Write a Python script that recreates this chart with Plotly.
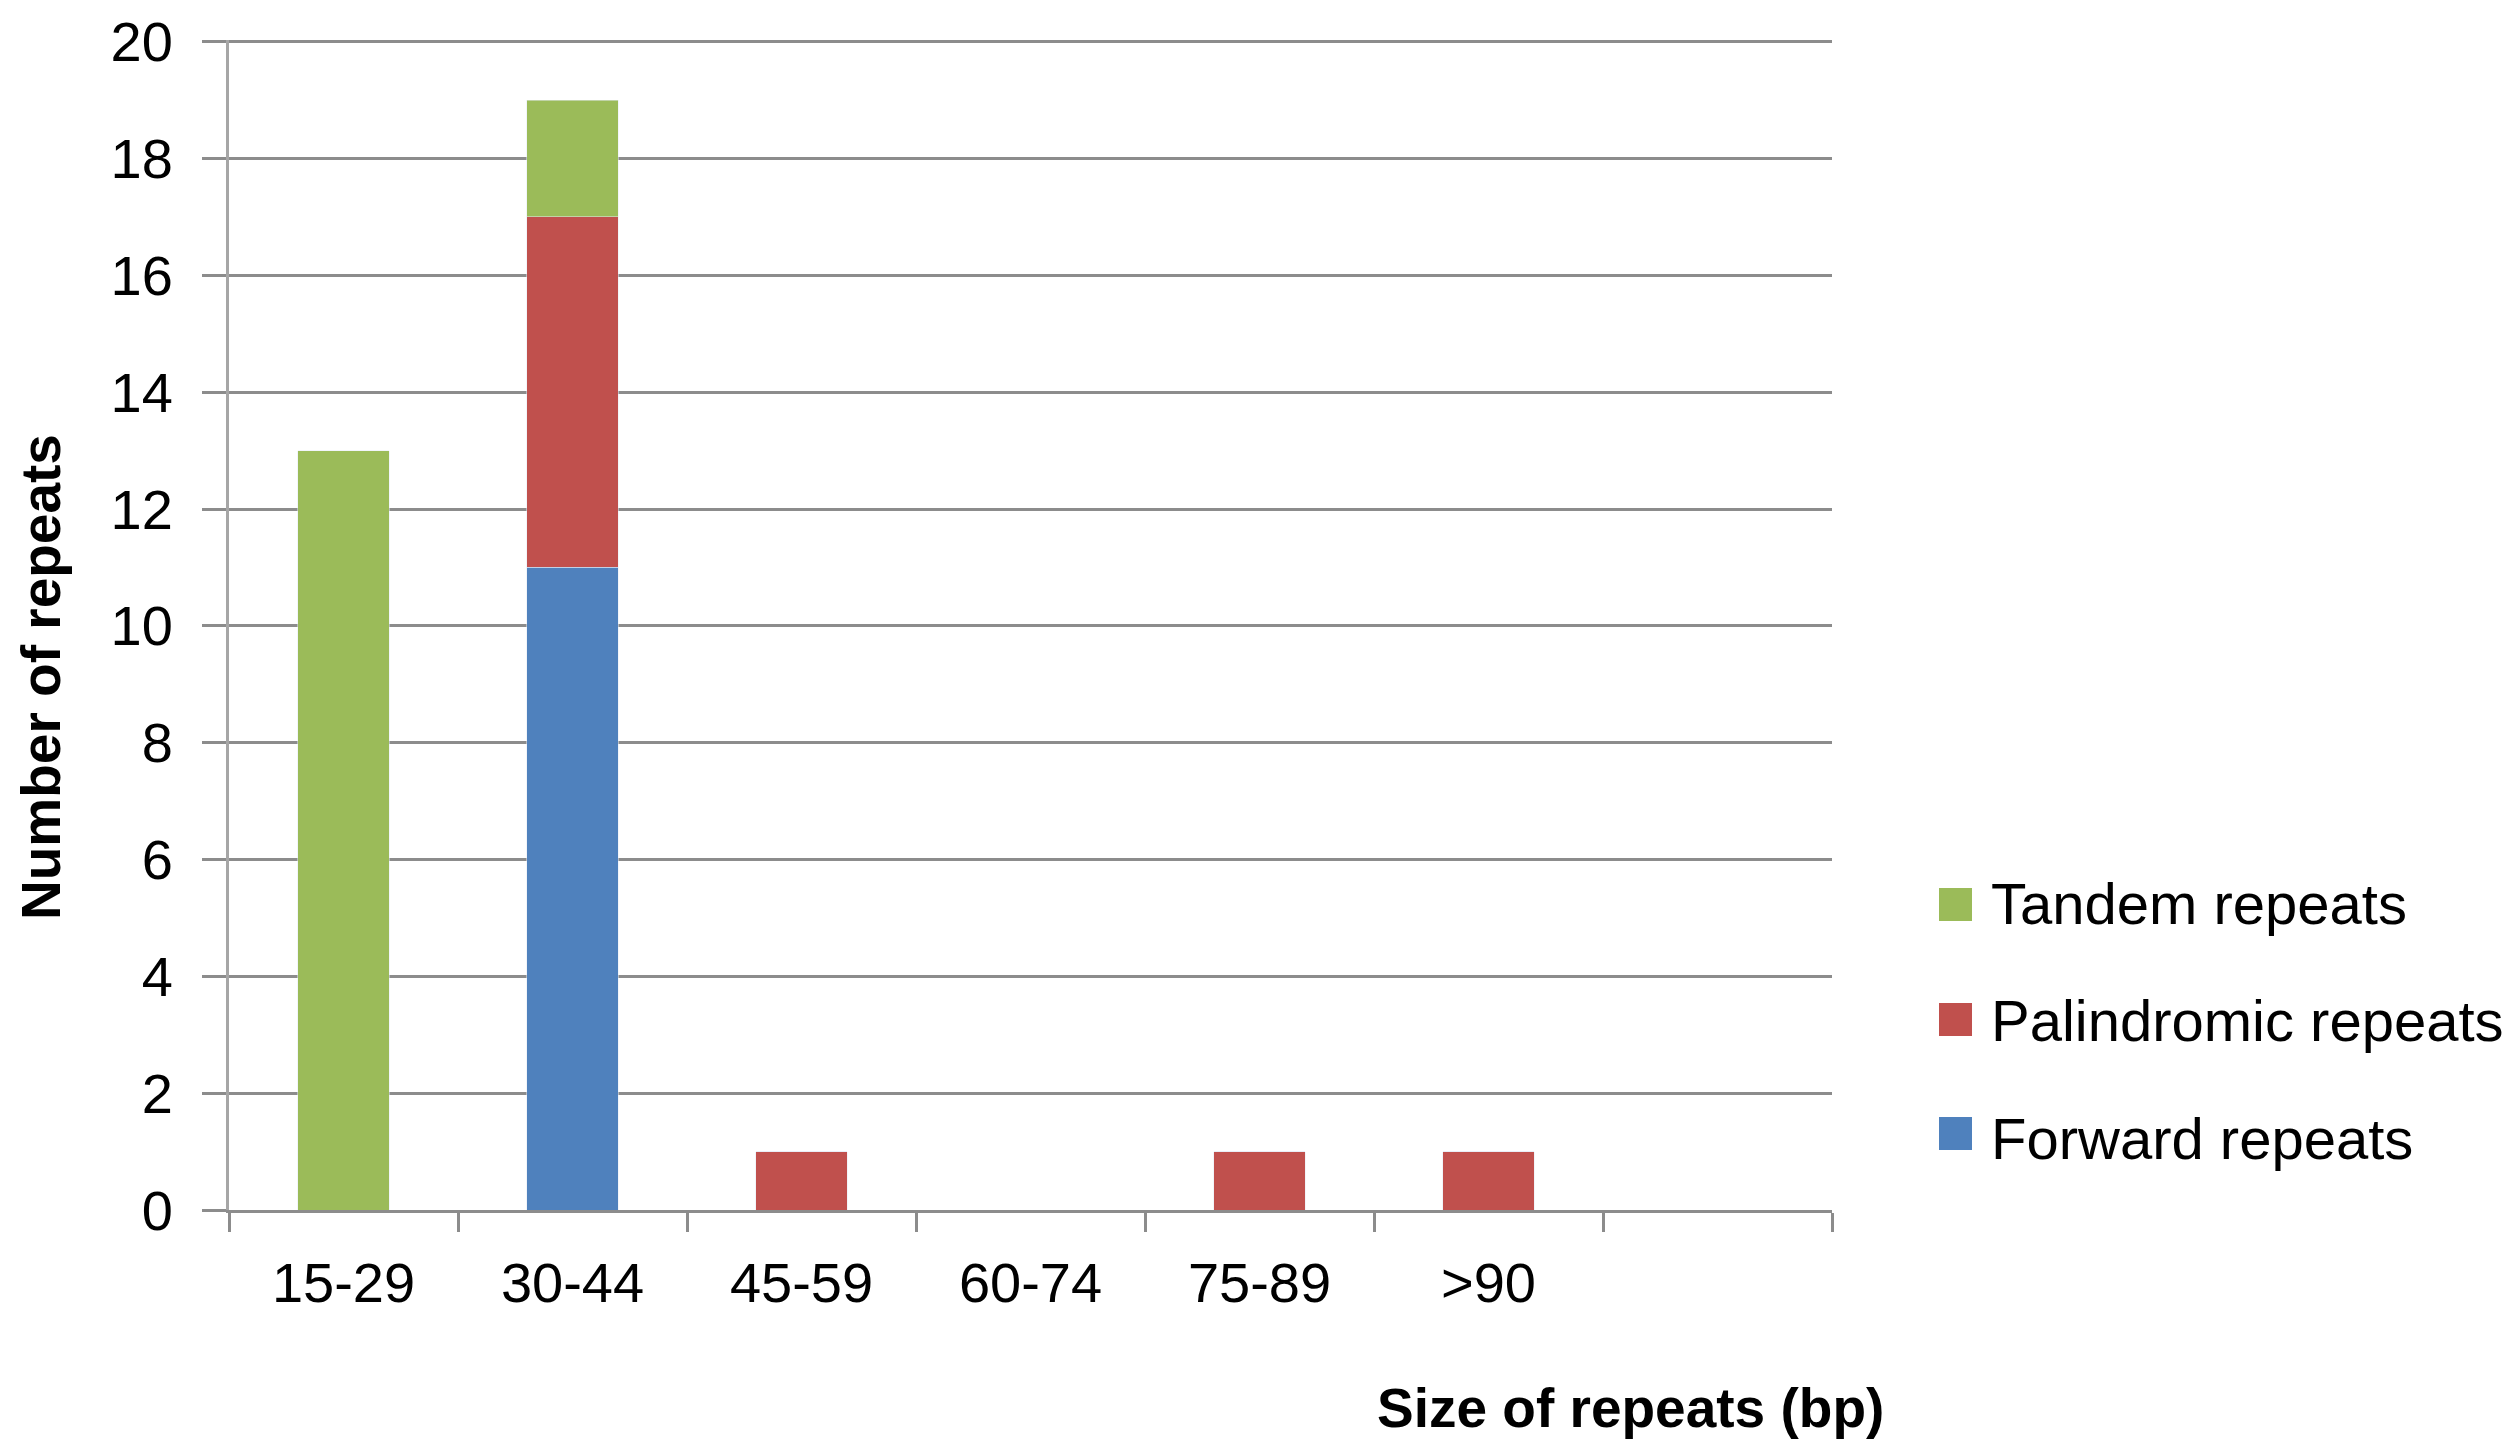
import plotly.graph_objects as go

categories = ["15-29", "30-44", "45-59", "60-74", "75-89", ">90", " "]
forward = [0, 11, 0, 0, 0, 0, 0]
palindromic = [0, 6, 1, 0, 1, 1, 0]
tandem = [13, 2, 0, 0, 0, 0, 0]

series = [("Forward repeats", forward, "#4F81BD"),
          ("Palindromic repeats", palindromic, "#C0504D"),
          ("Tandem repeats", tandem, "#9BBB59")]

FONT = "Liberation Sans"
L, T, R, B = 221, 32, 686, 251
W, H = 2510, 1453
PW, PH = W - L - R, H - T - B

fig = go.Figure()
for name, vals, col in series:
    fig.add_trace(go.Bar(x=categories, y=vals, name=name, marker_color=col,
                         showlegend=False))
# legend entries (text from the native legend; swatches drawn as larger squares)
for name, vals, col in reversed(series):
    fig.add_trace(go.Scatter(x=[None], y=[None], mode="markers", name=name,
                             legendgroup=name,
                             marker=dict(symbol="square", size=2,
                                         color="rgba(0,0,0,0)")))

# legend swatches, top to bottom
sw_left, sw_size = 1931, 33
sw_centers = [896.5, 1011.5, 1125.5]
shapes = []
for (name, vals, col), cy in zip(reversed(series), sw_centers):
    shapes.append(dict(type="rect", xref="paper", yref="paper", layer="above",
                       x0=(sw_left - L) / PW, x1=(sw_left + sw_size - L) / PW,
                       y0=(H - B - (cy + sw_size / 2)) / PH,
                       y1=(H - B - (cy - sw_size / 2)) / PH,
                       fillcolor=col, line=dict(width=0)))

fig.update_layout(
    width=W, height=H,
    barmode="stack", bargap=0.6,
    paper_bgcolor="white", plot_bgcolor="white",
    margin=dict(l=L, r=R, t=T, b=B, autoexpand=False),
    font=dict(family=FONT, size=56, color="black"),
    showlegend=True,
    legend=dict(x=(1925 - L) / PW, y=(H - B - 1011) / PH, xanchor="left", yanchor="middle",
                traceorder="grouped", tracegroupgap=39, itemsizing="trace",
                bgcolor="rgba(0,0,0,0)",
                font=dict(size=58, family=FONT), itemwidth=48),
    shapes=shapes,
    xaxis=dict(type="category", showgrid=False, showline=True, linecolor="#8c8c8c",
               linewidth=3, ticks="outside", tickson="boundaries", ticklen=19,
               tickwidth=3, tickcolor="#8c8c8c", ticklabelstandoff=22,
               tickfont=dict(size=56, family=FONT)),
    yaxis=dict(range=[0, 20.03], tickvals=list(range(0, 21, 2)),
               ticklabeloverflow="allow",
               showgrid=True, gridcolor="#8c8c8c", gridwidth=3,
               showline=True, linecolor="#a6a6a6", linewidth=3, ticks="outside",
               ticklen=24, tickwidth=3, tickcolor="#8c8c8c", ticklabelstandoff=18,
               zeroline=False, tickfont=dict(size=56, family=FONT)),
    annotations=[
        dict(text="<b>Number of repeats</b>", xref="paper", yref="paper",
             x=-L / PW, xanchor="left", y=(H - B - 669) / PH, yanchor="middle",
             textangle=-90, showarrow=False, font=dict(size=55, family=FONT)),
        dict(text="<b>Size of repeats (bp)</b>", xref="paper", yref="paper",
             x=(1622 - L) / PW, xanchor="center", y=(H - B - 1400) / PH,
             yanchor="middle", showarrow=False, font=dict(size=55, family=FONT)),
    ],
)
fig.write_html("out.html")
